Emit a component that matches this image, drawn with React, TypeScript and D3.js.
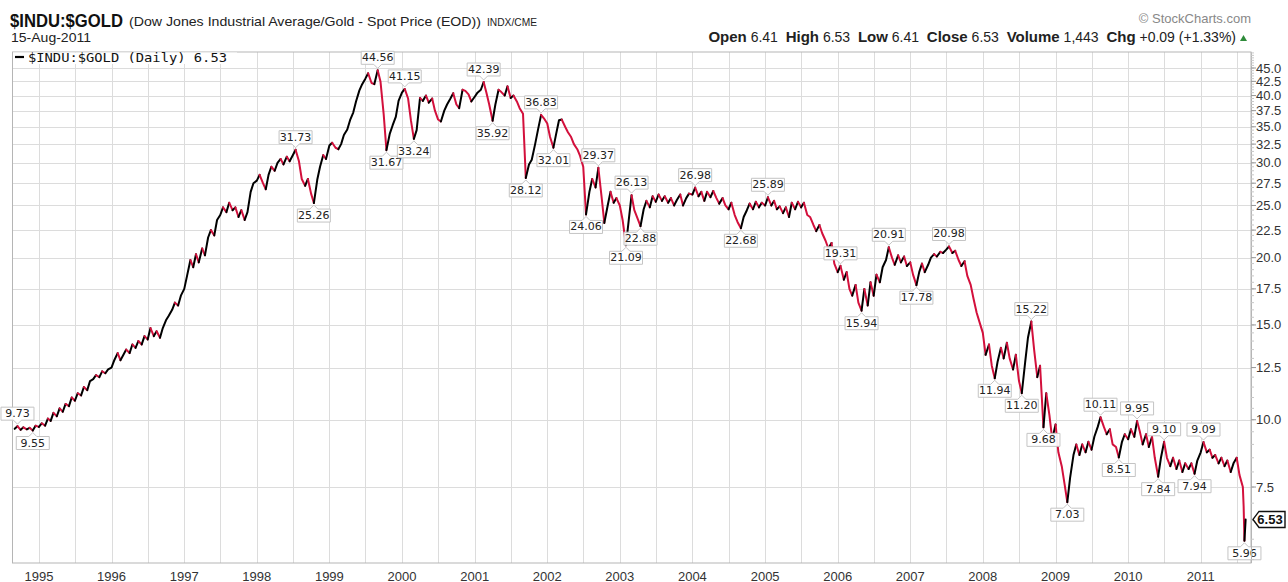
import React, { useMemo } from "react";
import * as d3 from "d3";

// Semi-monthly closes (1st and 15th of each month)
const v1994 = [9.62, 9.73, 9.58, 9.68, 9.6, 9.66, 9.55, 9.75]; // from 1 Sep 1994
const v1995 = [9.7, 9.85, 9.75, 10.05, 9.95, 10.3, 10.15, 10.5, 10.35, 10.7, 10.6, 11.0, 10.85, 11.2, 11.1, 11.5, 11.35, 11.8, 11.9, 12.1, 12.0, 12.3, 12.2, 12.4];
const v1996 = [12.5, 12.9, 13.3, 12.9, 13.2, 13.5, 13.3, 13.8, 13.6, 14.0, 13.8, 14.3, 14.1, 14.8, 14.3, 14.6, 14.2, 14.8, 15.3, 15.6, 16.0, 16.5, 16.3, 17.0];
const v1997 = [17.5, 18.5, 19.8, 19.2, 20.3, 19.6, 20.8, 20.2, 21.8, 22.5, 22.0, 23.5, 24.0, 24.8, 24.3, 25.3, 24.5, 24.8, 23.8, 24.5, 23.5, 24.3, 26.5, 27.5];
const v1998 = [27.8, 28.5, 27.5, 26.8, 28.5, 29.5, 29.0, 30.0, 30.5, 29.8, 30.8, 30.2, 31.0, 31.73, 30.2, 28.0, 27.2, 28.0, 26.3, 25.26, 27.9, 29.5, 31.0, 30.5];
const v1999 = [32.3, 32.7, 32.0, 31.8, 32.5, 33.8, 34.6, 36.0, 37.2, 39.0, 40.9, 42.0, 43.0, 44.0, 42.2, 42.0, 44.56, 42.5, 37.0, 31.67, 34.0, 35.2, 36.5, 39.1];
const v2000 = [40.5, 41.15, 39.5, 36.0, 33.24, 34.5, 39.6, 39.1, 40.0, 38.8, 39.5, 37.5, 36.1, 35.8, 37.5, 38.5, 39.5, 40.4, 38.5, 37.9, 41.0, 40.8, 40.2, 39.0];
const v2001 = [39.8, 40.5, 41.0, 42.39, 40.5, 38.5, 35.92, 38.5, 41.0, 40.6, 40.0, 41.6, 39.6, 40.0, 39.0, 37.9, 37.0, 28.12, 29.8, 30.4, 32.5, 34.5, 36.83, 36.3];
const v2002 = [35.5, 33.5, 32.01, 34.0, 36.0, 36.1, 35.0, 34.2, 33.5, 32.5, 31.8, 30.9, 29.5, 24.06, 26.5, 28.0, 27.0, 29.37, 26.0, 23.2, 25.0, 26.5, 25.3, 25.8];
const v2003 = [25.0, 23.5, 21.09, 23.5, 26.13, 24.5, 23.6, 22.88, 24.6, 25.5, 24.8, 26.0, 25.4, 26.2, 25.5, 26.0, 25.3, 25.8, 25.0, 25.6, 26.2, 25.0, 25.8, 26.3];
const v2004 = [26.2, 26.98, 26.0, 26.5, 25.5, 26.5, 25.9, 26.6, 25.8, 25.2, 25.8, 25.0, 24.6, 25.3, 24.0, 23.3, 22.68, 23.8, 24.5, 25.2, 24.6, 25.4, 24.8, 25.3];
const v2005 = [25.0, 25.89, 25.0, 25.5, 24.6, 24.9, 24.2, 24.8, 23.8, 25.3, 24.6, 25.4, 24.8, 25.3, 24.0, 23.8, 23.0, 22.4, 23.0, 22.2, 21.5, 20.8, 21.3, 19.5];
const v2006 = [18.8, 19.31, 18.2, 18.8, 17.5, 17.0, 17.8, 16.5, 15.94, 17.5, 16.3, 18.0, 17.0, 18.6, 18.0, 19.2, 19.8, 20.91, 20.0, 19.4, 20.2, 19.6, 20.1, 19.3];
const v2007 = [19.6, 18.6, 17.78, 18.8, 19.5, 18.8, 19.4, 20.0, 20.3, 20.1, 20.5, 20.4, 20.7, 20.98, 20.4, 20.6, 19.8, 19.3, 19.7, 18.5, 17.8, 16.8, 15.8, 15.2];
const v2008 = [14.5, 13.2, 13.8, 12.6, 11.94, 12.8, 13.6, 13.0, 13.9, 13.0, 12.4, 13.2, 11.8, 11.2, 12.8, 14.2, 15.22, 13.5, 12.0, 12.6, 9.68, 11.2, 10.2, 9.2];
const v2009 = [9.8, 8.7, 8.2, 7.6, 7.03, 7.8, 8.6, 9.0, 8.6, 9.0, 8.7, 9.1, 8.8, 9.3, 9.7, 10.11, 9.7, 9.4, 9.6, 9.0, 8.9, 8.51, 9.1, 9.4];
const v2010 = [9.2, 9.6, 9.3, 9.95, 9.5, 9.0, 9.4, 8.9, 9.3, 8.5, 7.84, 8.5, 9.1, 8.5, 8.2, 8.5, 8.1, 8.4, 8.0, 8.3, 8.1, 8.3, 7.94, 8.4];
const v2011 = [8.7, 9.09, 8.7, 8.8, 8.5, 8.6, 8.3, 8.5, 8.2, 8.4, 8.0, 8.3, 8.5, 7.9]; // to 15 Jul 2011
const tailDates = ["2011-08-01", "2011-08-05", "2011-08-09", "2011-08-15"];
const tailValues = [7.5, 6.9, 5.96, 6.53];

// [year, first half-month index, values]
const yearBlocks: [number, number, number[]][] = [
  [1994, 16, v1994], [1995, 0, v1995], [1996, 0, v1996], [1997, 0, v1997],
  [1998, 0, v1998], [1999, 0, v1999], [2000, 0, v2000], [2001, 0, v2001],
  [2002, 0, v2002], [2003, 0, v2003], [2004, 0, v2004], [2005, 0, v2005],
  [2006, 0, v2006], [2007, 0, v2007], [2008, 0, v2008], [2009, 0, v2009],
  [2010, 0, v2010], [2011, 0, v2011],
];

// Annotated highs/lows
const annDates = [
  "1994-09-15", "1994-12-01", "1998-07-15", "1998-10-15", "1999-09-01", "1999-10-15",
  "2000-01-15", "2000-03-01", "2001-02-15", "2001-04-01", "2001-09-15", "2001-12-01",
  "2002-02-01", "2002-07-15", "2002-09-15", "2003-02-01", "2003-03-01", "2003-04-15",
  "2004-01-15", "2004-09-01", "2005-01-15", "2006-01-15", "2006-05-01", "2006-09-15",
  "2007-02-01", "2007-07-15", "2008-03-01", "2008-07-15", "2008-09-01", "2008-11-01",
  "2009-03-01", "2009-08-15", "2009-11-15", "2010-02-15", "2010-06-01", "2010-07-01",
  "2010-12-01", "2011-01-15", "2011-08-09",
];
const annKinds = [
  "high", "low", "high", "low", "high", "low",
  "high", "low", "high", "low", "low", "high",
  "low", "low", "high", "low", "high", "low",
  "high", "low", "high", "high", "low", "high",
  "low", "high", "low", "low", "high", "low",
  "low", "high", "low", "high", "low", "high",
  "low", "high", "low",
];

const yTicks = [7.5, 10, 12.5, 15, 17.5, 20, 22.5, 25, 27.5, 30, 32.5, 35, 37.5, 40, 42.5, 45];
const xYears = d3.range(1995, 2012);

const RED = "#d3103c";
const UP = "#000000";

const parse = d3.timeParse("%Y-%m-%d");

function buildData() {
  const out: { date: Date; v: number; key: string }[] = [];
  const fmt = d3.timeFormat("%Y-%m-%d");
  yearBlocks.forEach(([yr, start, vals]) => {
    vals.forEach((v, i) => {
      const k = start + i;
      const d = new Date(yr, Math.floor(k / 2), k % 2 ? 15 : 1);
      out.push({ date: d, v, key: fmt(d) });
    });
  });
  tailDates.forEach((s, i) => out.push({ date: parse(s) as Date, v: tailValues[i], key: s }));
  return out;
}

export default function App() {
  const data = useMemo(buildData, []);
  const L = 12.5, R = 1251, T = 52, B = 563;
  const x = d3.scaleTime().domain([new Date(1994, 7, 21), new Date(2011, 8, 11)]).range([L, R]);
  const y = d3.scaleLog().domain([5.42, 48.19]).range([B, T]);

  const line = d3.line<{ date: Date; v: number }>().x((d) => x(d.date)).y((d) => y(d.v));

  // runs of same direction
  const runs: { color: string; pts: { date: Date; v: number }[] }[] = [];
  for (let i = 1; i < data.length; i++) {
    const c = data[i].v >= data[i - 1].v ? UP : RED;
    const last = runs[runs.length - 1];
    if (last && last.color === c) last.pts.push(data[i]);
    else runs.push({ color: c, pts: [data[i - 1], data[i]] });
  }

  const gridDates: Date[] = [];
  xYears.forEach((yr) => {
    gridDates.push(new Date(yr, 0, 1));
    gridDates.push(new Date(yr, 6, 1));
  });

  const minorTicks: number[] = [];
  for (let v = 5.5; v <= 48; v += 0.5) minorTicks.push(v);

  const byKey = new Map(data.map((d) => [d.key, d]));
  const last = data[data.length - 1];
  const font = "Liberation Sans, Arial, sans-serif";

  return (
    <div style={{ position: "absolute", left: 0, top: 0 }}>
      <svg width={1288} height={582} style={{ display: "block", background: "#fff" }} fontFamily={font}>
        <rect x={0} y={0} width={1288} height={582} fill="#fff" />
        {/* Header */}
        <text x={10} y={27} fontSize={19} fontWeight="bold" fill="#111" textLength={113} lengthAdjust="spacingAndGlyphs">$INDU:$GOLD</text>
        <text x={129} y={26} fontSize={13.5} fill="#222" textLength={352} lengthAdjust="spacingAndGlyphs">(Dow Jones Industrial Average/Gold - Spot Price (EOD))</text>
        <text x={487} y={26} fontSize={11.5} fill="#222" textLength={50} lengthAdjust="spacingAndGlyphs">INDX/CME</text>
        <text x={11} y={42} fontSize={13} fill="#222" textLength={80} lengthAdjust="spacingAndGlyphs">15-Aug-2011</text>
        <text x={1251} y={23} fontSize={13} fill="#888" textAnchor="end">© StockCharts.com</text>
        <text x={1236} y={42} fontSize={14} fill="#222" textAnchor="end" style={{ whiteSpace: "pre" }}>
          <tspan fontWeight="bold" fontSize={15}>Open</tspan><tspan> 6.41  </tspan>
          <tspan fontWeight="bold" fontSize={15}>High</tspan><tspan> 6.53  </tspan>
          <tspan fontWeight="bold" fontSize={15}>Low</tspan><tspan> 6.41  </tspan>
          <tspan fontWeight="bold" fontSize={15}>Close</tspan><tspan> 6.53  </tspan>
          <tspan fontWeight="bold" fontSize={15}>Volume</tspan><tspan> 1,443  </tspan>
          <tspan fontWeight="bold" fontSize={15}>Chg</tspan><tspan> +0.09 (+1.33%)</tspan>
        </text>
        <polygon points="1240,41 1247,41 1243.5,35" fill="#2e8b3a" />

        {/* Grid */}
        <g stroke="#dcdcdc" strokeWidth={1}>
          {gridDates.filter((d) => x(d) > L && x(d) < R).map((d, i) => (
            <line key={"gx" + i} x1={Math.round(x(d)) + 0.5} x2={Math.round(x(d)) + 0.5} y1={T} y2={B} />
          ))}
          {yTicks.map((t) => (
            <line key={"gy" + t} x1={L} x2={R} y1={Math.round(y(t)) + 0.5} y2={Math.round(y(t)) + 0.5} />
          ))}
        </g>
        <rect x={L} y={T} width={R - L} height={B - T} fill="none" stroke="#b5b5b5" strokeWidth={1} />

        {/* Legend */}
        <rect x={L + 0.5} y={T + 0.5} width={224} height={11.5} fill="#fff" />
        <line x1={15} x2={24} y1={57} y2={57} stroke="#000" strokeWidth={2.2} />
        <text x={28} y={61.5} fontSize={13} fontFamily="DejaVu Sans Mono, monospace" fill="#111" textLength={199} lengthAdjust="spacingAndGlyphs">$INDU:$GOLD (Daily) 6.53</text>

        {/* Price line */}
        <g fill="none" strokeWidth={2} strokeLinejoin="round" strokeLinecap="round">
          {runs.map((r, i) => (
            <path key={"r" + i} d={line(r.pts) || ""} stroke={r.color} />
          ))}
        </g>

        {/* Annotations */}
        <g fontFamily="DejaVu Sans, Verdana, sans-serif" fontSize={11}>
          {annDates.map((ds, i) => {
            const d = byKey.get(ds);
            if (!d) return null;
            const px = x(d.date);
            const py = y(d.v);
            const label = d.v.toFixed(2);
            const w = 33;
            const h = 13;
            const x0 = px - w / 2, x1 = px + w / 2;
            let p: string, ty: number;
            if (annKinds[i] === "high") {
              const bot = py - 6, top = bot - h;
              p = `M${x0},${top}H${x1}V${bot}H${px + 4}L${px},${py - 2}L${px - 4},${bot}H${x0}Z`;
              ty = bot - 3;
            } else {
              const top = py + 6, bot = top + h;
              p = `M${x0},${top}H${px - 4}L${px},${py + 2}L${px + 4},${top}H${x1}V${bot}H${x0}Z`;
              ty = bot - 3;
            }
            return (
              <g key={"a" + i}>
                <path d={p} fill="#fff" fillOpacity={0.92} stroke="#c4c4c4" strokeWidth={1} />
                <text x={px} y={ty} textAnchor="middle" fill="#222">{label}</text>
              </g>
            );
          })}
        </g>

        {/* Right axis */}
        <line x1={R + 0.5} x2={R + 0.5} y1={T} y2={B} stroke="#b5b5b5" />
        <g stroke="#c8c8c8">
          {minorTicks.filter((t) => y(t) > T && y(t) < B).map((t) => (
            <line key={"mt" + t} x1={R} x2={R + 3} y1={y(t)} y2={y(t)} />
          ))}
        </g>
        <g stroke="#999">
          {yTicks.map((t) => (
            <line key={"t" + t} x1={R} x2={R + 5} y1={y(t)} y2={y(t)} />
          ))}
        </g>
        <g fontSize={13} fill="#333">
          {yTicks.map((t) => (
            <text key={"yl" + t} x={1256} y={y(t) + 4.5}>{t.toFixed(1)}</text>
          ))}
        </g>

        {/* Last value tag */}
        {(() => {
          const ly = y(last.v);
          return (
            <g>
              <path d={`M${R + 2},${ly}L${R + 8},${ly - 8}H1285V${ly + 8}H${R + 8}Z`} fill="#fff" stroke="#111" strokeWidth={1.4} />
              <text x={1270} y={ly + 4.5} textAnchor="middle" fontSize={13} fontWeight="bold" fill="#111">{last.v.toFixed(2)}</text>
            </g>
          );
        })()}

        {/* X axis labels */}
        <g fontSize={13} fill="#333" textAnchor="middle">
          {xYears.map((yr) => (
            <text key={"xl" + yr} x={x(new Date(yr, 0, 1))} y={580.5}>{yr}</text>
          ))}
        </g>
      </svg>
    </div>
  );
}
